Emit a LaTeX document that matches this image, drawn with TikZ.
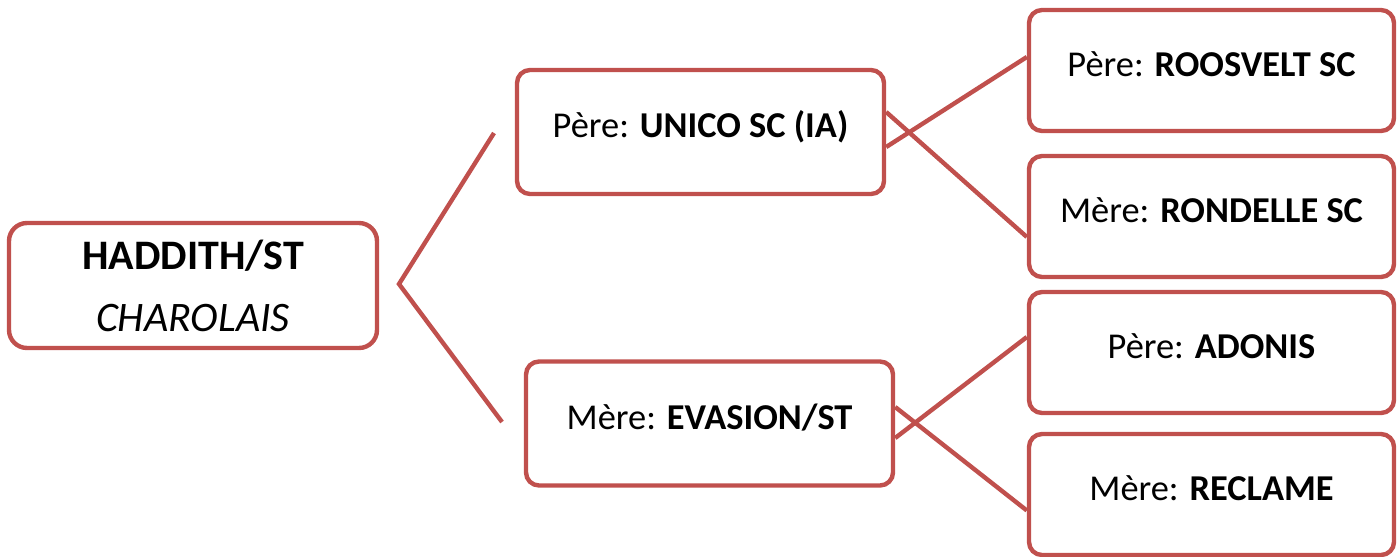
\documentclass[tikz,border=0pt]{standalone}
\usepackage{fontspec}
\setmainfont{Carlito}
\usepackage{tikz}
\usetikzlibrary{calc}
\definecolor{boxred}{RGB}{192,80,77}

\begin{document}
\begin{tikzpicture}[x=0.5pt,y=-0.5pt] % one unit = one pixel of the reference
  % Define styles for boxes and links
  \tikzset{
    box/.style={
      draw=boxred,
      fill=white,
      line width=2.2pt,
      rounded corners=6.5pt,
      inner sep=0pt,
      minimum width=183.5pt
    },
    person/.style={
      box,
      minimum height=62pt,
      font=\fontsize{18.2}{22}\selectfont,
      text height=12pt,
      text depth=6.5pt
    },
    ancestor/.style={person, minimum width=182.5pt, minimum height=60.5pt},
    animal/.style={
      box,
      rounded corners=9pt,
      minimum width=184pt,
      minimum height=62.5pt,
      align=center,
      font=\fontsize{21}{31}\selectfont
    },
    link/.style={draw=boxred, line width=2.2pt}
  }
  \useasboundingbox (0,0) rectangle (1400,556);

  % The animal itself
  \node[animal] (haddith) at (193,285.5) {\textbf{HADDITH/ST}\\\textit{CHAROLAIS}};

  % Parents
  \node[person] (unico) at (700.5,132) {Père: \textbf{UNICO SC (IA)}};
  \node[person] (evasion) at (709.5,423.5) {Mère: \textbf{EVASION/ST}};

  % Grandparents
  \node[ancestor] (roosvelt) at (1211.5,70.5) {Père: \textbf{ROOSVELT SC}};
  \node[ancestor] (rondelle) at (1211.5,216.5) {Mère: \textbf{RONDELLE SC}};
  \node[ancestor] (adonis) at (1211.5,352.5) {Père: \textbf{ADONIS}};
  \node[ancestor] (reclame) at (1211.5,494.5) {Mère: \textbf{RECLAME}};

  % Fork towards the parents
  \coordinate (fork) at (399,284);
  \coordinate (forkup) at (494,133);
  \coordinate (forkdown) at (502,422);
  \draw[link] (forkup) -- (fork) -- (forkdown);

  % Crossed links towards the grandparents
  \draw[link] ($(unico.east)+(0,-20)$) -- ($(rondelle.west)+(0,20.5)$);
  \draw[link] ($(unico.east)+(0,15)$) -- ($(roosvelt.west)+(0,-13.5)$);
  \draw[link] ($(evasion.east)+(0,-16.5)$) -- ($(reclame.west)+(0,16)$);
  \draw[link] ($(evasion.east)+(0,14.5)$) -- ($(adonis.west)+(0,-15.5)$);
\end{tikzpicture}
\end{document}
